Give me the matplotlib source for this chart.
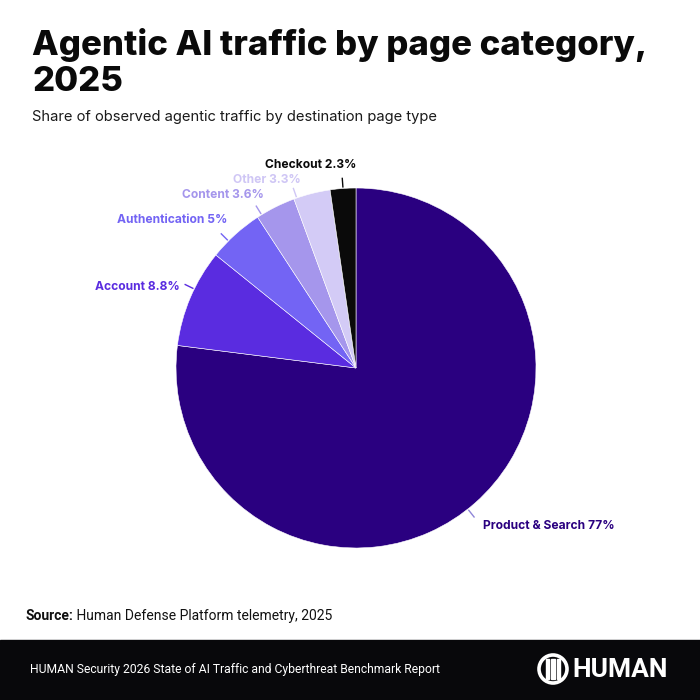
import numpy as np
import matplotlib
matplotlib.use('Agg')
from matplotlib import pyplot as plt
from matplotlib.patches import Rectangle, Circle

categories = ['Product & Search', 'Account', 'Authentication', 'Content', 'Other', 'Checkout']
shares = [77, 8.8, 5, 3.6, 3.3, 2.3]
share_labels = ['77%', '8.8%', '5%', '3.6%', '3.3%', '2.3%']

colors = ['#2a0080', '#5a2ce0', '#7364f4', '#a596ec', '#d3cbf6', '#0a0a0a']
label_colors = ['#2a0080', '#5a2ce0', '#7364f4', '#a596ec', '#cfc6f5', '#0a0a0a']

# leader tweaks per label: angle shift (deg), text offset (px), alignment
angle_shift = [3, 3, -3, -5, -5, 0]
text_off = [(8, -8), (-5, -3), (7, 7), (8, 5), (8, 2), (14, 7)]
text_ha = ['left', 'right', 'right', 'right', 'right', 'right']
text_va = ['center', 'center', 'bottom', 'bottom', 'bottom', 'bottom']

W, H = 700, 700
fig = plt.figure(figsize=(7, 7), dpi=100)
ax = fig.add_axes([0, 0, 1, 1])

cx, cy, r = 356, H - 368, 180

wedges, _ = ax.pie(shares, colors=colors, startangle=90, counterclock=False,
                   center=(cx, cy), radius=r, frame=True,
                   wedgeprops=dict(edgecolor='white', linewidth=0.4))
ax.set_xlim(0, W)
ax.set_ylim(0, H)
ax.set_aspect('equal')
ax.set_axis_off()

cum = np.cumsum([0] + shares)
for i, name in enumerate(categories):
    mid = (cum[i] + cum[i + 1]) / 2 / 100 * 360 + angle_shift[i]
    a = np.deg2rad(mid)
    x0 = cx + r * 1.005 * np.sin(a)
    y0 = cy + r * 1.005 * np.cos(a)
    x1 = cx + r * 1.06 * np.sin(a)
    y1 = cy + r * 1.06 * np.cos(a)
    lc = '#8f86d8' if i == 0 else label_colors[i]
    ax.plot([x0, x1], [y0, y1], color=lc, lw=1.0, solid_capstyle='butt')
    ax.text(x1 + text_off[i][0], y1 + text_off[i][1], name + ' ' + share_labels[i],
            ha=text_ha[i], va=text_va[i], color=label_colors[i],
            fontsize=8.7, fontweight='bold', family='Inter')

# title block
fig.text(32 / W, 1 - 91 / H, 'Agentic AI traffic by page category,\n2025',
         fontsize=25, fontweight='heavy', family='Inter', color='#0a0a0a',
         ha='left', va='baseline', linespacing=1.15)
fig.text(32 / W, 1 - 117 / H, 'Share of observed agentic traffic by destination page type',
         fontsize=10.6, family='Inter', color='#1a1a1a', ha='left', va='center')

# source
src = fig.text(26 / W, 1 - 616 / H, 'Source:', fontsize=10, fontweight='bold',
               family='Roboto', color='#111111', ha='left', va='center')
fig.canvas.draw()
bb = src.get_window_extent()
fig.text((bb.x1 - 1) / W, 1 - 616 / H, ' Human Defense Platform telemetry, 2025',
         fontsize=10, family='Roboto', color='#111111', ha='left', va='center')

# footer band
ax.add_patch(Rectangle((0, 0), W, 60, color='#08080b', zorder=5, clip_on=False))
ax.text(30, 30, 'HUMAN Security 2026 State of AI Traffic and Cyberthreat Benchmark Report',
        fontsize=8.7, family='Roboto', color='white', ha='left', va='center', zorder=6)

# logo
ax.add_patch(Circle((553, 31), 14, facecolor='none', edgecolor='white', lw=2.6, zorder=6))
for dx in (-5.5, 0, 5.5):
    ax.add_patch(Rectangle((553 + dx - 1.6, 31 - 10), 3.2, 20, color='white', zorder=6))
ax.text(572, 30, 'HUMAN', fontsize=19, fontweight='bold', family='Roboto',
        color='white', ha='left', va='center', zorder=6)

fig.savefig('out.png', dpi=100, facecolor='white')
